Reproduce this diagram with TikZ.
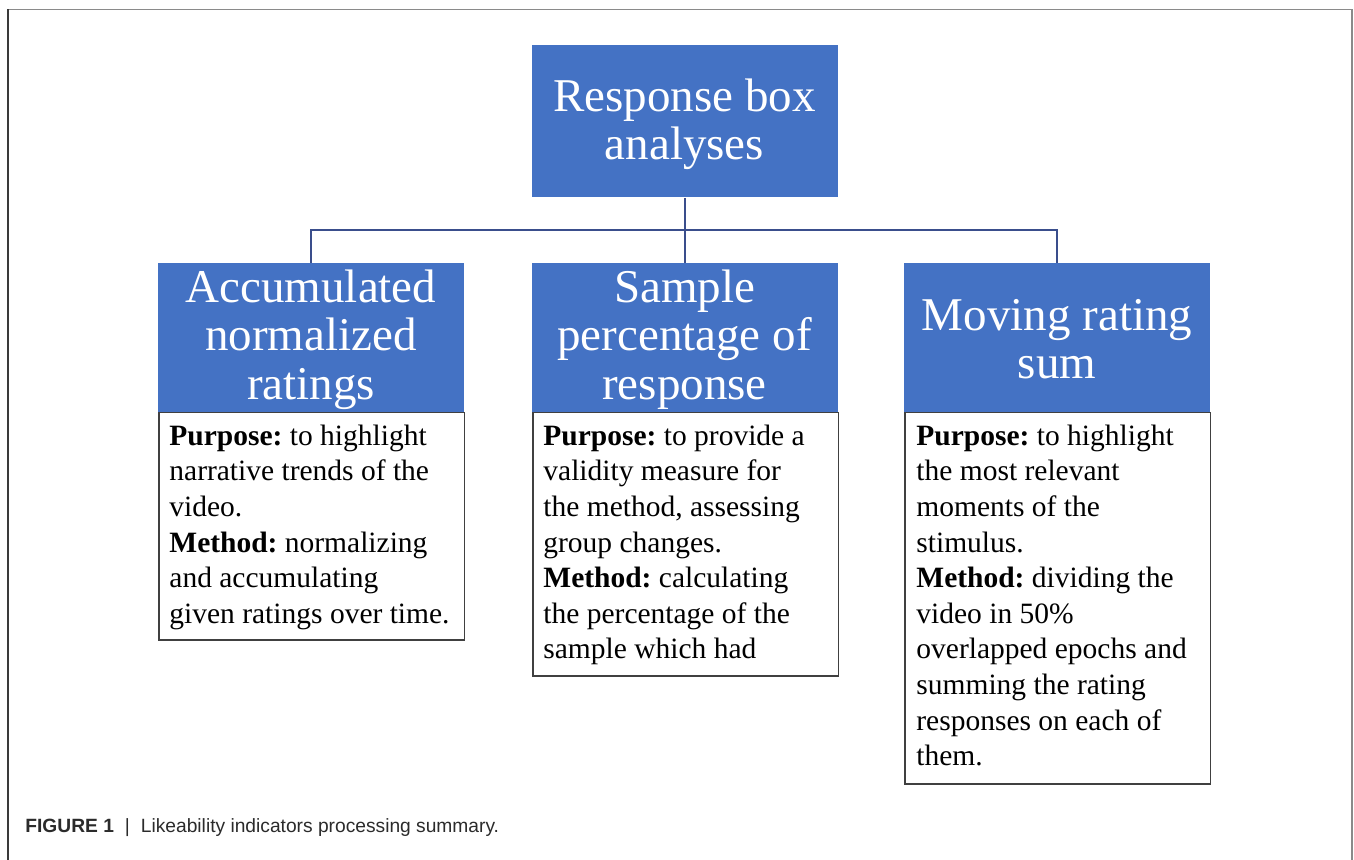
\documentclass[tikz,border=0pt]{standalone}
\usepackage{fontspec}
\setmainfont{Liberation Serif}
\newfontfamily\capfont{Liberation Sans}
\definecolor{hdrblue}{HTML}{4472C4}
\definecolor{connblue}{HTML}{3A4E8C}
\definecolor{framedark}{HTML}{3A3A3A}
\definecolor{framegray}{HTML}{8A8A8A}
\definecolor{captxt}{HTML}{2B2B2B}
\definecolor{boxline}{HTML}{404040}
\frenchspacing
\begin{document}
\begin{tikzpicture}[x=0.5pt,y=-0.5pt,
  hdrbox/.style={fill=hdrblue, draw=none, inner sep=0pt, anchor=north west, minimum width=152.75pt},
  bodybox/.style={fill=white, draw=boxline, line width=0.75pt, inner sep=0pt, anchor=north west, minimum width=152.75pt},
  hdrtxt/.style={text=white, align=center, inner sep=0pt, anchor=north, font=\fontsize{23.5pt}{24.25pt}\selectfont},
  bodytxt/.style={text=black, align=left, inner sep=0pt, anchor=north west, font=\fontsize{14.75pt}{17.8pt}\selectfont\frenchspacing},
  conn/.style={draw=connblue, line width=0.75pt},
  captext/.style={text=captxt, inner sep=0pt, anchor=base west, font=\capfont\fontsize{9.6pt}{11.5pt}\selectfont}
]
\useasboundingbox (0,0) rectangle (1354,860);
\fill[white] (0,0) rectangle (1354,860);
% frame
\draw[framegray, line width=0.8pt] (8,9.5) -- (1352,9.5) -- (1352,860);
\draw[framedark, line width=0.8pt] (8,860) -- (8,9.5);

% header boxes
\node[hdrbox, minimum height=76pt] (top) at (532,45) {};
\node[hdrbox, minimum height=74.5pt] (lefth) at (158,263) {};
\node[hdrbox, minimum height=74.5pt] (midh) at (532,263) {};
\node[hdrbox, minimum height=74.5pt] (righth) at (904,263) {};

% body boxes
\node[bodybox, minimum height=113.5pt] (leftb) at (158,412) {};
\node[bodybox, minimum height=131.5pt] (midb) at (532,412) {};
\node[bodybox, minimum height=185.5pt] (rightb) at (904,412) {};

% connectors
\coordinate (bus) at (684.5,230);
\draw[conn, line width=1pt] (top.south) -- (midh.north);
\draw[conn] (lefth.north) |- (bus) -| (righth.north);

% header texts
\node[hdrtxt] (toptxt) at (684.5,77) {\strut Response box\\analyses};
\node[hdrtxt] (lefttxt) at (311,268) {\strut Accumulated\\normalized\\ratings};
\node[hdrtxt] (midtxt) at (684.5,268) {\strut Sample\\percentage of\\response};
\node[hdrtxt] (righttxt) at (1057,296) {\strut Moving rating\\sum};

% body texts
\node[bodytxt] (leftbody) at (169,420) {\strut\textbf{Purpose:} to highlight\\narrative trends of the\\video.\\\textbf{Method:} normalizing\\and accumulating\\given ratings over time.};
\node[bodytxt] (midbody) at (543,420) {\strut\textbf{Purpose:} to provide a\\validity measure for\\the method, assessing\\group changes.\\\textbf{Method:} calculating\\the percentage of the\\sample which had};
\node[bodytxt] (rightbody) at (916,420) {\strut\textbf{Purpose:} to highlight\\the most relevant\\moments of the\\stimulus.\\\textbf{Method:} dividing the\\video in 50\%\\overlapped epochs and\\summing the rating\\responses on each of\\them.};

% caption
\node[captext] (caption) at (25,832) {\textbf{FIGURE 1}\hspace{5.5pt}|\hspace{5.5pt}Likeability indicators processing summary.};
\end{tikzpicture}
\end{document}
